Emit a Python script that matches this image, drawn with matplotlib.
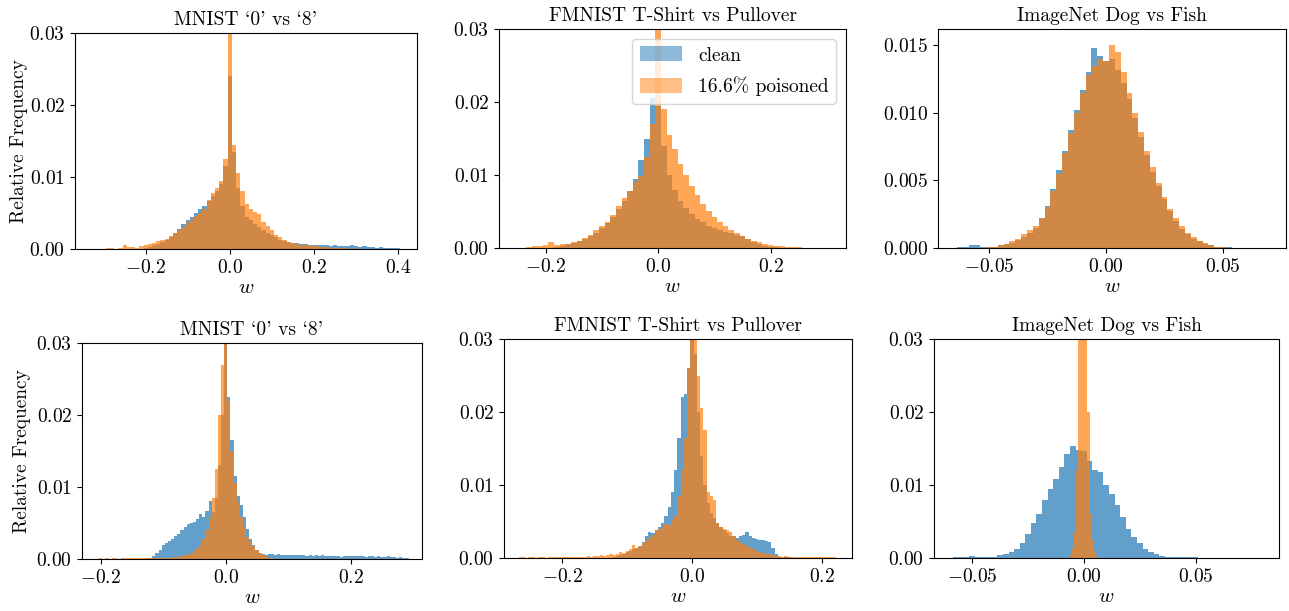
import numpy as np
import matplotlib
matplotlib.use("Agg")
import matplotlib.pyplot as plt
from matplotlib.patches import Patch

plt.rcParams['font.family'] = ['cmr10', 'DejaVu Serif']
plt.rcParams['mathtext.fontset'] = 'cm'
plt.rcParams['axes.formatter.use_mathtext'] = True
plt.rcParams['font.size'] = 14

titles = ["MNIST `0' vs `8'", "FMNIST T-Shirt vs Pullover", "ImageNet Dog vs Fish",
          "MNIST `0' vs `8'", "FMNIST T-Shirt vs Pullover", "ImageNet Dog vs Fish"]
labels = ["clean", "16.6% poisoned"]

# ---- top row: bin heights (relative frequency) ----
# MNIST top, bins of 0.01
mnist1_clean_start, mnist1_clean_step = -0.20, 0.01
mnist1_clean = [0.0002, 0.0003, 0.0005, 0.0007, 0.0010, 0.0013, 0.0017, 0.0022, 0.0028, 0.0035,
                0.0040, 0.0045, 0.0050, 0.0055, 0.0060, 0.0066, 0.0074, 0.0080, 0.0090, 0.0115,
                0.0240, 0.0135, 0.0085, 0.0060, 0.0045, 0.0040, 0.0035, 0.0030, 0.0026, 0.0022,
                0.0019, 0.0016, 0.0013, 0.0011, 0.0010, 0.0009, 0.0008, 0.0007, 0.0007, 0.0006,
                0.0006, 0.0005, 0.0005, 0.0005, 0.0004, 0.0005, 0.0004, 0.0004, 0.0004, 0.0005,
                0.0004, 0.0003, 0.0004, 0.0003, 0.0003, 0.0002, 0.0003, 0.0002, 0.0001, 0.0001,
                0.0001]
mnist1_pois_start, mnist1_pois_step = -0.30, 0.01
mnist1_pois = [0.0000, 0.0002, 0.0001, 0.0000, 0.0001, 0.0005, 0.0003, 0.0003, 0.0002, 0.0004,
               0.0006, 0.0007, 0.0009, 0.0011, 0.0012, 0.0014, 0.0018, 0.0022, 0.0026, 0.0030,
               0.0036, 0.0040, 0.0046, 0.0050, 0.0056, 0.0068, 0.0078, 0.0085, 0.0095, 0.0125,
               0.0450, 0.0145, 0.0105, 0.0080, 0.0062, 0.0055, 0.0052, 0.0048, 0.0038, 0.0032,
               0.0026, 0.0020, 0.0016, 0.0012, 0.0010, 0.0009, 0.0007, 0.0006, 0.0006, 0.0005,
               0.0004, 0.0004, 0.0003, 0.0003, 0.0002, 0.0002, 0.0001, 0.0001, 0.0001, 0.0000,
               0.0001]

# FMNIST top, bins of 0.01
fmnist1_clean_start, fmnist1_clean_step = -0.18, 0.01
fmnist1_clean = [0.0002, 0.0003, 0.0005, 0.0007, 0.0009, 0.0012, 0.0016, 0.0021, 0.0027, 0.0034,
                 0.0043, 0.0053, 0.0064, 0.0078, 0.0095, 0.0120, 0.0150, 0.0205, 0.0195, 0.0140,
                 0.0100, 0.0080, 0.0065, 0.0055, 0.0047, 0.0040, 0.0035, 0.0030, 0.0027, 0.0024,
                 0.0022, 0.0020, 0.0018, 0.0016, 0.0012, 0.0008, 0.0005, 0.0003, 0.0002, 0.0001]
fmnist1_pois_start, fmnist1_pois_step = -0.23, 0.01
fmnist1_pois = [0.0002, 0.0003, 0.0003, 0.0004, 0.0008, 0.0004, 0.0005, 0.0006, 0.0008, 0.0010,
                0.0014, 0.0018, 0.0024, 0.0030, 0.0036, 0.0045, 0.0058, 0.0068, 0.0078, 0.0090,
                0.0098, 0.0125, 0.0170, 0.0450, 0.0190, 0.0155, 0.0135, 0.0115, 0.0100, 0.0085,
                0.0072, 0.0060, 0.0050, 0.0042, 0.0035, 0.0030, 0.0025, 0.0020, 0.0016, 0.0013,
                0.0010, 0.0008, 0.0006, 0.0004, 0.0003, 0.0003, 0.0002, 0.0002, 0.0001]

# ImageNet top, bins of 0.0025
imnet1_clean_start, imnet1_clean_step = -0.0625, 0.0025
imnet1_clean = [0.0001, 0.0001, 0.0002, 0.0002, 0.0001, 0.0001, 0.0001, 0.0002, 0.0003, 0.0004,
                0.0006, 0.0008, 0.0011, 0.0015, 0.0022, 0.0031, 0.0044, 0.0058, 0.0072, 0.0087,
                0.0102, 0.0117, 0.0130, 0.0148, 0.0142, 0.0138, 0.0140, 0.0132, 0.0122, 0.0110,
                0.0096, 0.0082, 0.0069, 0.0056, 0.0046, 0.0036, 0.0027, 0.0020, 0.0014, 0.0010,
                0.0007, 0.0005, 0.0003, 0.0002, 0.0001, 0.0001, 0.0001]
imnet1_pois_start, imnet1_pois_step = -0.05, 0.0025
imnet1_pois = [0.0001, 0.0001, 0.0002, 0.0003, 0.0005, 0.0007, 0.0010, 0.0013, 0.0016, 0.0022,
               0.0030, 0.0042, 0.0055, 0.0070, 0.0085, 0.0100, 0.0115, 0.0128, 0.0135, 0.0140,
               0.0138, 0.0150, 0.0145, 0.0130, 0.0115, 0.0100, 0.0086, 0.0072, 0.0060, 0.0048,
               0.0038, 0.0029, 0.0022, 0.0016, 0.0011, 0.0008, 0.0005, 0.0004, 0.0002, 0.0001,
               0.0001]

# ---- bottom row ----
# MNIST bottom, bins of 0.005
mnist2_clean_start, mnist2_clean_step = -0.125, 0.005
mnist2_clean = [0.0001, 0.0002, 0.0004, 0.0008, 0.0012, 0.0020, 0.0022, 0.0025, 0.0028, 0.0032,
                0.0035, 0.0040, 0.0045, 0.0048, 0.0050, 0.0052, 0.0055, 0.0062, 0.0058, 0.0066,
                0.0080, 0.0065, 0.0085, 0.0130, 0.0200, 0.0300, 0.0225, 0.0165, 0.0115, 0.0088,
                0.0075, 0.0058, 0.0042, 0.0028, 0.0019, 0.0013, 0.0009, 0.0007, 0.0006, 0.0007,
                0.0007, 0.0006, 0.0007, 0.0006, 0.0006, 0.0005, 0.0006, 0.0005, 0.0005, 0.0005,
                0.0005, 0.0004, 0.0005, 0.0004, 0.0005, 0.0004, 0.0005, 0.0004, 0.0004, 0.0004,
                0.0004, 0.0004, 0.0003, 0.0004, 0.0004, 0.0004, 0.0004, 0.0004, 0.0004, 0.0004,
                0.0003, 0.0004, 0.0004, 0.0003, 0.0004, 0.0003, 0.0003, 0.0004, 0.0003, 0.0003,
                0.0002, 0.0003, 0.0002, 0.0002]
mnist2_pois_start, mnist2_pois_step = -0.200, 0.005
mnist2_pois = [0.0001, 0.0000, 0.0001, 0.0000, 0.0001, 0.0001, 0.0000, 0.0001, 0.0001, 0.0001,
               0.0001, 0.0001, 0.0001, 0.0001, 0.0001, 0.0001, 0.0002, 0.0001, 0.0002, 0.0002,
               0.0002, 0.0002, 0.0002, 0.0003, 0.0003, 0.0003, 0.0004, 0.0005, 0.0006, 0.0008,
               0.0011, 0.0015, 0.0020, 0.0028, 0.0040, 0.0058, 0.0085, 0.0125, 0.0200, 0.0270,
               0.0450, 0.0220, 0.0150, 0.0105, 0.0078, 0.0058, 0.0045, 0.0030, 0.0024, 0.0018,
               0.0012, 0.0009, 0.0006, 0.0004, 0.0002, 0.0001]

# FMNIST bottom, bins of 0.005
fmnist2_clean_start, fmnist2_clean_step = -0.120, 0.005
fmnist2_clean = [0.0002, 0.0003, 0.0004, 0.0005, 0.0008, 0.0010, 0.0012, 0.0014, 0.0017, 0.0022,
                 0.0030, 0.0036, 0.0034, 0.0038, 0.0042, 0.0048, 0.0058, 0.0070, 0.0090, 0.0120,
                 0.0165, 0.0220, 0.0225, 0.0260, 0.0300, 0.0280, 0.0200, 0.0140, 0.0100, 0.0075,
                 0.0062, 0.0055, 0.0048, 0.0042, 0.0038, 0.0034, 0.0030, 0.0030, 0.0028, 0.0030,
                 0.0032, 0.0035, 0.0030, 0.0028, 0.0026, 0.0025, 0.0024, 0.0023, 0.0022, 0.0014,
                 0.0006, 0.0002, 0.0002, 0.0001, 0.0001]
fmnist2_pois_start, fmnist2_pois_step = -0.265, 0.005
fmnist2_pois = [0.0002, 0.0001, 0.0000, 0.0001, 0.0001, 0.0000, 0.0001, 0.0001, 0.0000, 0.0001,
                0.0001, 0.0002, 0.0001, 0.0001, 0.0001, 0.0002, 0.0001, 0.0002, 0.0002, 0.0001,
                0.0002, 0.0003, 0.0002, 0.0003, 0.0003, 0.0004, 0.0003, 0.0004, 0.0005, 0.0004,
                0.0006, 0.0008, 0.0007, 0.0010, 0.0012, 0.0018, 0.0014, 0.0016, 0.0020, 0.0023,
                0.0027, 0.0032, 0.0038, 0.0040, 0.0043, 0.0046, 0.0045, 0.0052, 0.0058, 0.0085,
                0.0120, 0.0165, 0.0260, 0.0450, 0.0450, 0.0250, 0.0205, 0.0175, 0.0090, 0.0085,
                0.0080, 0.0048, 0.0042, 0.0040, 0.0038, 0.0036, 0.0030, 0.0025, 0.0022, 0.0019,
                0.0017, 0.0014, 0.0012, 0.0009, 0.0008, 0.0007, 0.0006, 0.0005, 0.0004, 0.0003,
                0.0003, 0.0002, 0.0003, 0.0002, 0.0002, 0.0002, 0.0001, 0.0002, 0.0002, 0.0001,
                0.0002, 0.0002, 0.0001, 0.0002, 0.0001, 0.0002, 0.0001, 0.0001]

# ImageNet bottom
imnet2_clean_start, imnet2_clean_step = -0.0575, 0.0025
imnet2_clean = [0.0001, 0.0001, 0.0002, 0.0003, 0.0001, 0.0001, 0.0002, 0.0002, 0.0004, 0.0006,
                0.0008, 0.0013, 0.0020, 0.0033, 0.0048, 0.0060, 0.0080, 0.0095, 0.0108, 0.0125,
                0.0143, 0.0153, 0.0148, 0.0146, 0.0133, 0.0120, 0.0118, 0.0100, 0.0088, 0.0072,
                0.0056, 0.0040, 0.0029, 0.0020, 0.0013, 0.0008, 0.0005, 0.0003, 0.0002, 0.0002,
                0.0001, 0.0001, 0.0001, 0.0001]
imnet2_pois_start, imnet2_pois_step = -0.006, 0.001
imnet2_pois = [0.0004, 0.0012, 0.0035, 0.0120, 0.0450, 0.0450, 0.0450, 0.0450, 0.0200, 0.0060,
               0.0025, 0.0010, 0.0003]

panels = [
    [(mnist1_clean_start, mnist1_clean_step, mnist1_clean), (mnist1_pois_start, mnist1_pois_step, mnist1_pois)],
    [(fmnist1_clean_start, fmnist1_clean_step, fmnist1_clean), (fmnist1_pois_start, fmnist1_pois_step, fmnist1_pois)],
    [(imnet1_clean_start, imnet1_clean_step, imnet1_clean), (imnet1_pois_start, imnet1_pois_step, imnet1_pois)],
    [(mnist2_clean_start, mnist2_clean_step, mnist2_clean), (mnist2_pois_start, mnist2_pois_step, mnist2_pois)],
    [(fmnist2_clean_start, fmnist2_clean_step, fmnist2_clean), (fmnist2_pois_start, fmnist2_pois_step, fmnist2_pois)],
    [(imnet2_clean_start, imnet2_clean_step, imnet2_clean), (imnet2_pois_start, imnet2_pois_step, imnet2_pois)],
]

xlims = [(-0.368, 0.445), (-0.283, 0.334), (-0.0718, 0.0769),
         (-0.230, 0.314), (-0.290, 0.247), (-0.0671, 0.0873)]
xticks = [[-0.2, 0.0, 0.2, 0.4], [-0.2, 0.0, 0.2], [-0.05, 0.0, 0.05],
          [-0.2, 0.0, 0.2], [-0.2, 0.0, 0.2], [-0.05, 0.0, 0.05]]
ylims = [0.03, 0.03, 0.0162, 0.03, 0.03, 0.03]
yticks_03 = [0.0, 0.01, 0.02, 0.03]
yticks_015 = [0.0, 0.005, 0.010, 0.015]

# axes boxes in pixels: x0, x1, top, bottom
W, H = 1289, 611
boxes = [(75, 417, 33, 249), (499, 846, 29, 248), (938, 1286, 29, 248),
         (82, 422, 343, 559), (504, 852, 339, 558), (934, 1279, 339, 558)]

fig = plt.figure(figsize=(W / 100, H / 100), dpi=100)

for i, series in enumerate(panels):
    x0, x1, top, bot = boxes[i]
    ax = fig.add_axes([x0 / W, (H - bot) / H, (x1 - x0) / W, (bot - top) / H])
    for j, (start, step, heights) in enumerate(series):
        centers = start + step * np.arange(len(heights))
        edges = np.append(centers - step / 2, centers[-1] + step / 2)
        ax.hist(centers, bins=edges, weights=heights, color='C%d' % j, alpha=0.7)
    ax.set_xlim(xlims[i])
    ax.set_xticks(xticks[i])
    ax.set_ylim(0, ylims[i])
    ax.set_yticks(yticks_015 if i == 2 else yticks_03)
    ax.set_title(titles[i], fontsize=14)
    ax.set_xlabel('$w$', fontsize=15, labelpad=2)
    if i == 0:
        ax.set_ylabel('Relative Frequency', labelpad=1)
    if i == 3:
        ax.set_ylabel('Relative Frequency')
    if i == 1:
        handles = [Patch(facecolor='C0', alpha=0.5, linewidth=0),
                   Patch(facecolor='C1', alpha=0.5, linewidth=0)]
        ax.legend(handles, labels, loc='upper right', fontsize=14,
                  handlelength=2.2, handleheight=0.8, labelspacing=0.6)

fig.savefig('out.png', dpi=100)
